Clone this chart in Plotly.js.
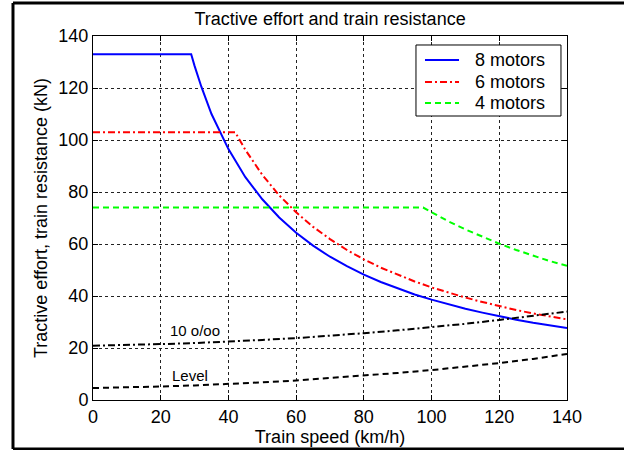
<!DOCTYPE html>
<html>
<head>
<meta charset="utf-8">
<script src="https://cdn.plot.ly/plotly-3.0.1.min.js"></script>
<style>html,body{margin:0;padding:0;background:#fff;}#chart{width:624px;height:450px;}</style>
</head>
<body>
<div id="chart"></div>
<script>
// Tractive effort, 8 motors (km/h, kN)
const speed8 = [0, 29, 30, 32, 35, 38, 40, 45, 50, 55, 60, 65, 70, 75, 80, 85, 90, 95, 100, 105, 110, 115, 120, 125, 130, 135, 140];
const effort8 = [133, 133, 128.5, 120.5, 110, 101.5, 96.5, 85.7, 77.2, 70.2, 64.3, 59.4, 55.1, 51.5, 48.2, 45.4, 42.9, 40.6, 38.6, 36.8, 35.1, 33.6, 32.2, 30.9, 29.7, 28.6, 27.7];
// 6 motors
const speed6 = [0, 42, 45, 50, 55, 60, 65, 70, 75, 80, 85, 90, 95, 100, 105, 110, 115, 120, 125, 130, 135, 140];
const effort6 = [103, 103, 96.2, 86.6, 78.7, 72.2, 66.6, 61.9, 57.7, 54.1, 50.9, 48.1, 45.6, 43.3, 41.2, 39.4, 37.7, 36.1, 34.6, 33.3, 32.1, 31.0];
// 4 motors
const speed4 = [0, 97.5, 100, 105, 110, 115, 120, 125, 130, 135, 140];
const effort4 = [74, 74, 72.2, 68.7, 65.6, 62.7, 60.1, 57.7, 55.5, 53.4, 51.6];
// Train resistance
const speedR = [0, 10, 20, 30, 40, 50, 60, 70, 80, 90, 100, 110, 120, 130, 140];
const resistLevel = [4.6, 4.8, 5.2, 5.6, 6.1, 6.8, 7.5, 8.4, 9.4, 10.4, 11.5, 12.8, 14.2, 15.8, 17.7];
const resist10 = [20.9, 21.1, 21.5, 21.9, 22.4, 23.1, 23.8, 24.7, 25.7, 26.8, 28.0, 29.3, 30.8, 32.3, 34.0];
const xTicks = [0, 20, 40, 60, 80, 100, 120, 140];
const yTicks = [0, 20, 40, 60, 80, 100, 120, 140];
const legendNames = ['8 motors', '6 motors', '4 motors'];

const FONT = 'Liberation Sans, Arial, sans-serif';
const DASHDOT = '7px,3px,2px,3px';
const DASH = '6px,4px';
const styles = [
  {color: '#0000ff', width: 2, dash: 'solid'},
  {color: '#ff0000', width: 2, dash: DASHDOT},
  {color: '#00ff00', width: 2, dash: DASH}
];
const traces = [
  {x: speed8, y: effort8, name: legendNames[0], mode: 'lines', line: styles[0]},
  {x: speed6, y: effort6, name: legendNames[1], mode: 'lines', line: styles[1]},
  {x: speed4, y: effort4, name: legendNames[2], mode: 'lines', line: styles[2]},
  {x: speedR, y: resist10, name: '10 o/oo', mode: 'lines', line: {color: '#000000', width: 2, dash: DASHDOT}},
  {x: speedR, y: resistLevel, name: 'Level', mode: 'lines', line: {color: '#000000', width: 2, dash: DASH}}
];

const axisCommon = {
  showline: true, linecolor: '#000', linewidth: 1, mirror: 'ticks',
  ticks: 'inside', ticklen: 5, tickcolor: '#000', tickwidth: 1,
  showgrid: true, gridcolor: '#222', gridwidth: 1, griddash: '3px,3px',
  zeroline: false, tickfont: {family: FONT, size: 18, color: '#000'}
};

// legend box (paper coords)
const lgX0 = 0.6814, lgX1 = 0.9873, lgY0 = 0.7802, lgY1 = 0.9753;
const lgRows = [0.9341, 0.8736, 0.8159];
const shapes = [
  {type: 'line', xref: 'paper', yref: 'paper', x0: -0.1688, x1: 1.2, y0: 1.0907, y1: 1.0907, line: {color: '#000', width: 3}},
  {type: 'line', xref: 'paper', yref: 'paper', x0: -0.1688, x1: 1.2, y0: -0.1346, y1: -0.1346, line: {color: '#000', width: 3}},
  {type: 'line', xref: 'paper', yref: 'paper', x0: -0.1688, x1: -0.1688, y0: -0.1346, y1: 1.0907, line: {color: '#000', width: 3}},
  {type: 'rect', xref: 'paper', yref: 'paper', x0: lgX0, x1: lgX1, y0: lgY0, y1: lgY1, fillcolor: '#fff', line: {color: '#000', width: 1}, layer: 'above'}
];
const annotations = [
  {x: 22.1, y: 26.9, xref: 'x', yref: 'y', text: '10 o/oo', showarrow: false, xanchor: 'left', yanchor: 'middle', font: {family: FONT, size: 15, color: '#000'}},
  {x: 22.7, y: 9.6, xref: 'x', yref: 'y', text: 'Level', showarrow: false, xanchor: 'left', yanchor: 'middle', font: {family: FONT, size: 15, color: '#000'}}
];
legendNames.forEach((nm, i) => {
  shapes.push({type: 'line', xref: 'paper', yref: 'paper', x0: 0.7004, x1: 0.7722, y0: lgRows[i], y1: lgRows[i], line: styles[i], layer: 'above'});
  annotations.push({xref: 'paper', yref: 'paper', x: 0.8017, y: lgRows[i], text: nm, showarrow: false, xanchor: 'left', yanchor: 'middle', font: {family: FONT, size: 18, color: '#000'}});
});

const layout = {
  width: 624, height: 450,
  margin: {l: 93, r: 57, t: 36, b: 50},
  paper_bgcolor: '#fff', plot_bgcolor: '#fff',
  font: {family: FONT, color: '#000'},
  showlegend: false,
  title: {text: 'Tractive effort and train resistance', font: {family: FONT, size: 18, color: '#000'},
          x: 0.529, xanchor: 'center', y: 0.958, yref: 'container', yanchor: 'middle'},
  xaxis: Object.assign({}, axisCommon, {range: [0, 140], tickvals: xTicks, ticktext: xTicks.map(String),
    title: {text: 'Train speed (km/h)', font: {family: FONT, size: 18, color: '#000'}, standoff: 4}}),
  yaxis: Object.assign({}, axisCommon, {range: [0, 140], tickvals: yTicks, ticktext: yTicks.map(String),
    title: {text: 'Tractive effort, train resistance (kN)', font: {family: FONT, size: 18, color: '#000'}, standoff: 6}}),
  annotations: annotations,
  shapes: shapes
};

Plotly.newPlot('chart', traces, layout, {displayModeBar: false, staticPlot: true});
</script>
</body>
</html>
